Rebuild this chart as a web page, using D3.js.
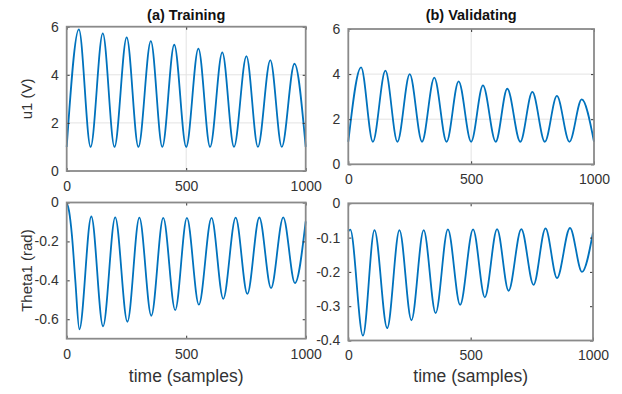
<!DOCTYPE html>
<html>
<head>
<meta charset="utf-8">
<script src="https://cdn.jsdelivr.net/npm/d3@7"></script>
<style>
  body { margin: 0; background: #fff; }
  svg { display: block; font-family: "Liberation Sans", Arial, sans-serif; }
</style>
</head>
<body>
<div id="chart"></div>
<script>
// extrema (time in samples, value)
const uTrainT = [0, 51, 100, 151, 200, 251, 300, 352, 400, 450, 500, 551, 600, 651, 700, 752, 800, 852, 900, 953, 1000];
const uTrainV = [1.0, 5.89, 1.0, 5.72, 1.0, 5.56, 1.0, 5.40, 1.0, 5.25, 1.0, 5.09, 1.0, 4.93, 1.0, 4.78, 1.0, 4.61, 1.0, 4.46, 1.0];

const uValT = [0, 52, 100, 151, 200, 250, 300, 350, 400, 449, 500, 548, 600, 647, 700, 749, 800, 849, 900, 950, 1000];
const uValV = [1.0, 4.30, 1.0, 4.15, 1.0, 4.00, 1.0, 3.84, 1.0, 3.68, 1.0, 3.50, 1.0, 3.35, 1.0, 3.21, 1.0, 3.03, 1.0, 2.88, 1.0];

const thTrainT = [0, 10, 22, 36, 53, 103, 152, 203, 254, 304, 354, 404, 454, 503, 553, 606, 655, 707, 756, 806, 855, 906, 955, 1000];
const thTrainV = [0, -0.045, -0.17, -0.40, -0.652, -0.072, -0.636, -0.076, -0.613, -0.078, -0.582, -0.079, -0.553, -0.079, -0.525, -0.079, -0.495, -0.078, -0.47, -0.077, -0.44, -0.076, -0.414, -0.097];

const thValT = [0, 8, 60, 107, 159, 209, 258, 308, 357, 407, 457, 510, 558, 608, 655, 707, 757, 806, 853, 906, 955, 1000];
const thValV = [-0.082, -0.077, -0.386, -0.078, -0.364, -0.078, -0.341, -0.078, -0.32, -0.076, -0.296, -0.076, -0.274, -0.075, -0.255, -0.075, -0.238, -0.073, -0.218, -0.072, -0.2, -0.085];

const xTicks = [0, 500, 1000];
const uTicks = [0, 2, 4, 6];
const thTrainTicks = [0, -0.2, -0.4, -0.6];
const thValTicks = [0, -0.1, -0.2, -0.3, -0.4];

const panels = [
  { t: uTrainT, v: uTrainV, x0: 66.7, x1: 305.7, y0: 171, y1: 26.7, dom: [0, 6], yt: uTicks, grid: true,
    title: "(a) Training", ylabel: "u1 (V)" },
  { t: uValT, v: uValV, x0: 348.3, x1: 594, y0: 164.3, y1: 29, dom: [0, 6], yt: uTicks, grid: true,
    title: "(b) Validating" },
  { t: thTrainT, v: thTrainV, x0: 66.7, x1: 305.7, y0: 338.7, y1: 202.5, dom: [-0.7, 0], yt: thTrainTicks, grid: false,
    ylabel: "Theta1 (rad)", xlabel: "time (samples)" },
  { t: thValT, v: thValV, x0: 348.3, x1: 593, y0: 340.5, y1: 203.3, dom: [-0.4, 0], yt: thValTicks, grid: false,
    xlabel: "time (samples)" }
];

const svg = d3.select("#chart").append("svg")
  .attr("width", 622)
  .attr("height", 394);

const fmt = d => d3.format("")(+d.toFixed(2)).replace("−", "-");

panels.forEach(p => {
  const x = d3.scaleLinear().domain([0, 1000]).range([p.x0, p.x1]);
  const y = d3.scaleLinear().domain(p.dom).range([p.y0, p.y1]);
  const g = svg.append("g");

  if (p.grid) {
    g.append("g").selectAll("line")
      .data(p.yt.filter(d => d > p.dom[0] && d < p.dom[1]))
      .join("line")
        .attr("x1", p.x0).attr("x2", p.x1)
        .attr("y1", d => y(d)).attr("y2", d => y(d))
        .attr("stroke", "#e3e3e3").attr("stroke-width", 1);
    g.append("line")
      .attr("x1", x(500)).attr("x2", x(500))
      .attr("y1", p.y0).attr("y2", p.y1)
      .attr("stroke", "#e3e3e3").attr("stroke-width", 1);
  }

  const pts = p.t.map((t, i) => [t, p.v[i]]);
  g.append("path")
    .datum(pts)
    .attr("fill", "none")
    .attr("stroke", "#0072BD")
    .attr("stroke-width", 1.8)
    .attr("d", d3.line().x(d => x(d[0])).y(d => y(d[1])).curve(d3.curveMonotoneX));

  // axes with inward ticks, mirrored on top/right
  const ax = g => g.selectAll(".domain").remove();
  g.append("g").attr("transform", `translate(0,${p.y0})`)
    .call(d3.axisBottom(x).tickValues(xTicks).tickSize(-3).tickPadding(10).tickFormat(d3.format("d")))
    .call(ax);
  g.append("g").attr("transform", `translate(0,${p.y1})`)
    .call(d3.axisTop(x).tickValues(xTicks).tickSize(-3).tickFormat(""))
    .call(ax);
  g.append("g").attr("transform", `translate(${p.x0},0)`)
    .call(d3.axisLeft(y).tickValues(p.yt).tickSize(-3).tickPadding(8).tickFormat(fmt))
    .call(ax);
  g.append("g").attr("transform", `translate(${p.x1},0)`)
    .call(d3.axisRight(y).tickValues(p.yt).tickSize(-3).tickFormat(""))
    .call(ax);

  g.selectAll(".tick line").attr("stroke", "#333");
  g.selectAll(".tick text")
    .attr("fill", "#333")
    .style("font-size", "14px")
    .style("font-family", "'Liberation Sans', Arial, sans-serif");

  g.append("rect")
    .attr("x", p.x0).attr("y", p.y1)
    .attr("width", p.x1 - p.x0).attr("height", p.y0 - p.y1)
    .attr("fill", "none")
    .attr("stroke", "#8a8a8a")
    .attr("stroke-width", 1.8);

  const cx = (p.x0 + p.x1) / 2;
  if (p.title) {
    g.append("text")
      .attr("x", cx).attr("y", 20)
      .attr("text-anchor", "middle")
      .style("font-size", "14.5px")
      .style("font-weight", "bold")
      .attr("fill", "#111")
      .text(p.title);
  }
  if (p.ylabel) {
    g.append("text")
      .attr("transform", `translate(${p.x0 - 35},${(p.y0 + p.y1) / 2}) rotate(-90)`)
      .attr("text-anchor", "middle")
      .style("font-size", "15px")
      .attr("fill", "#333")
      .text(p.ylabel);
  }
  if (p.xlabel) {
    g.append("text")
      .attr("x", cx).attr("y", 382)
      .attr("text-anchor", "middle")
      .style("font-size", "17.5px")
      .attr("fill", "#333")
      .text(p.xlabel);
  }
});
</script>
</body>
</html>
